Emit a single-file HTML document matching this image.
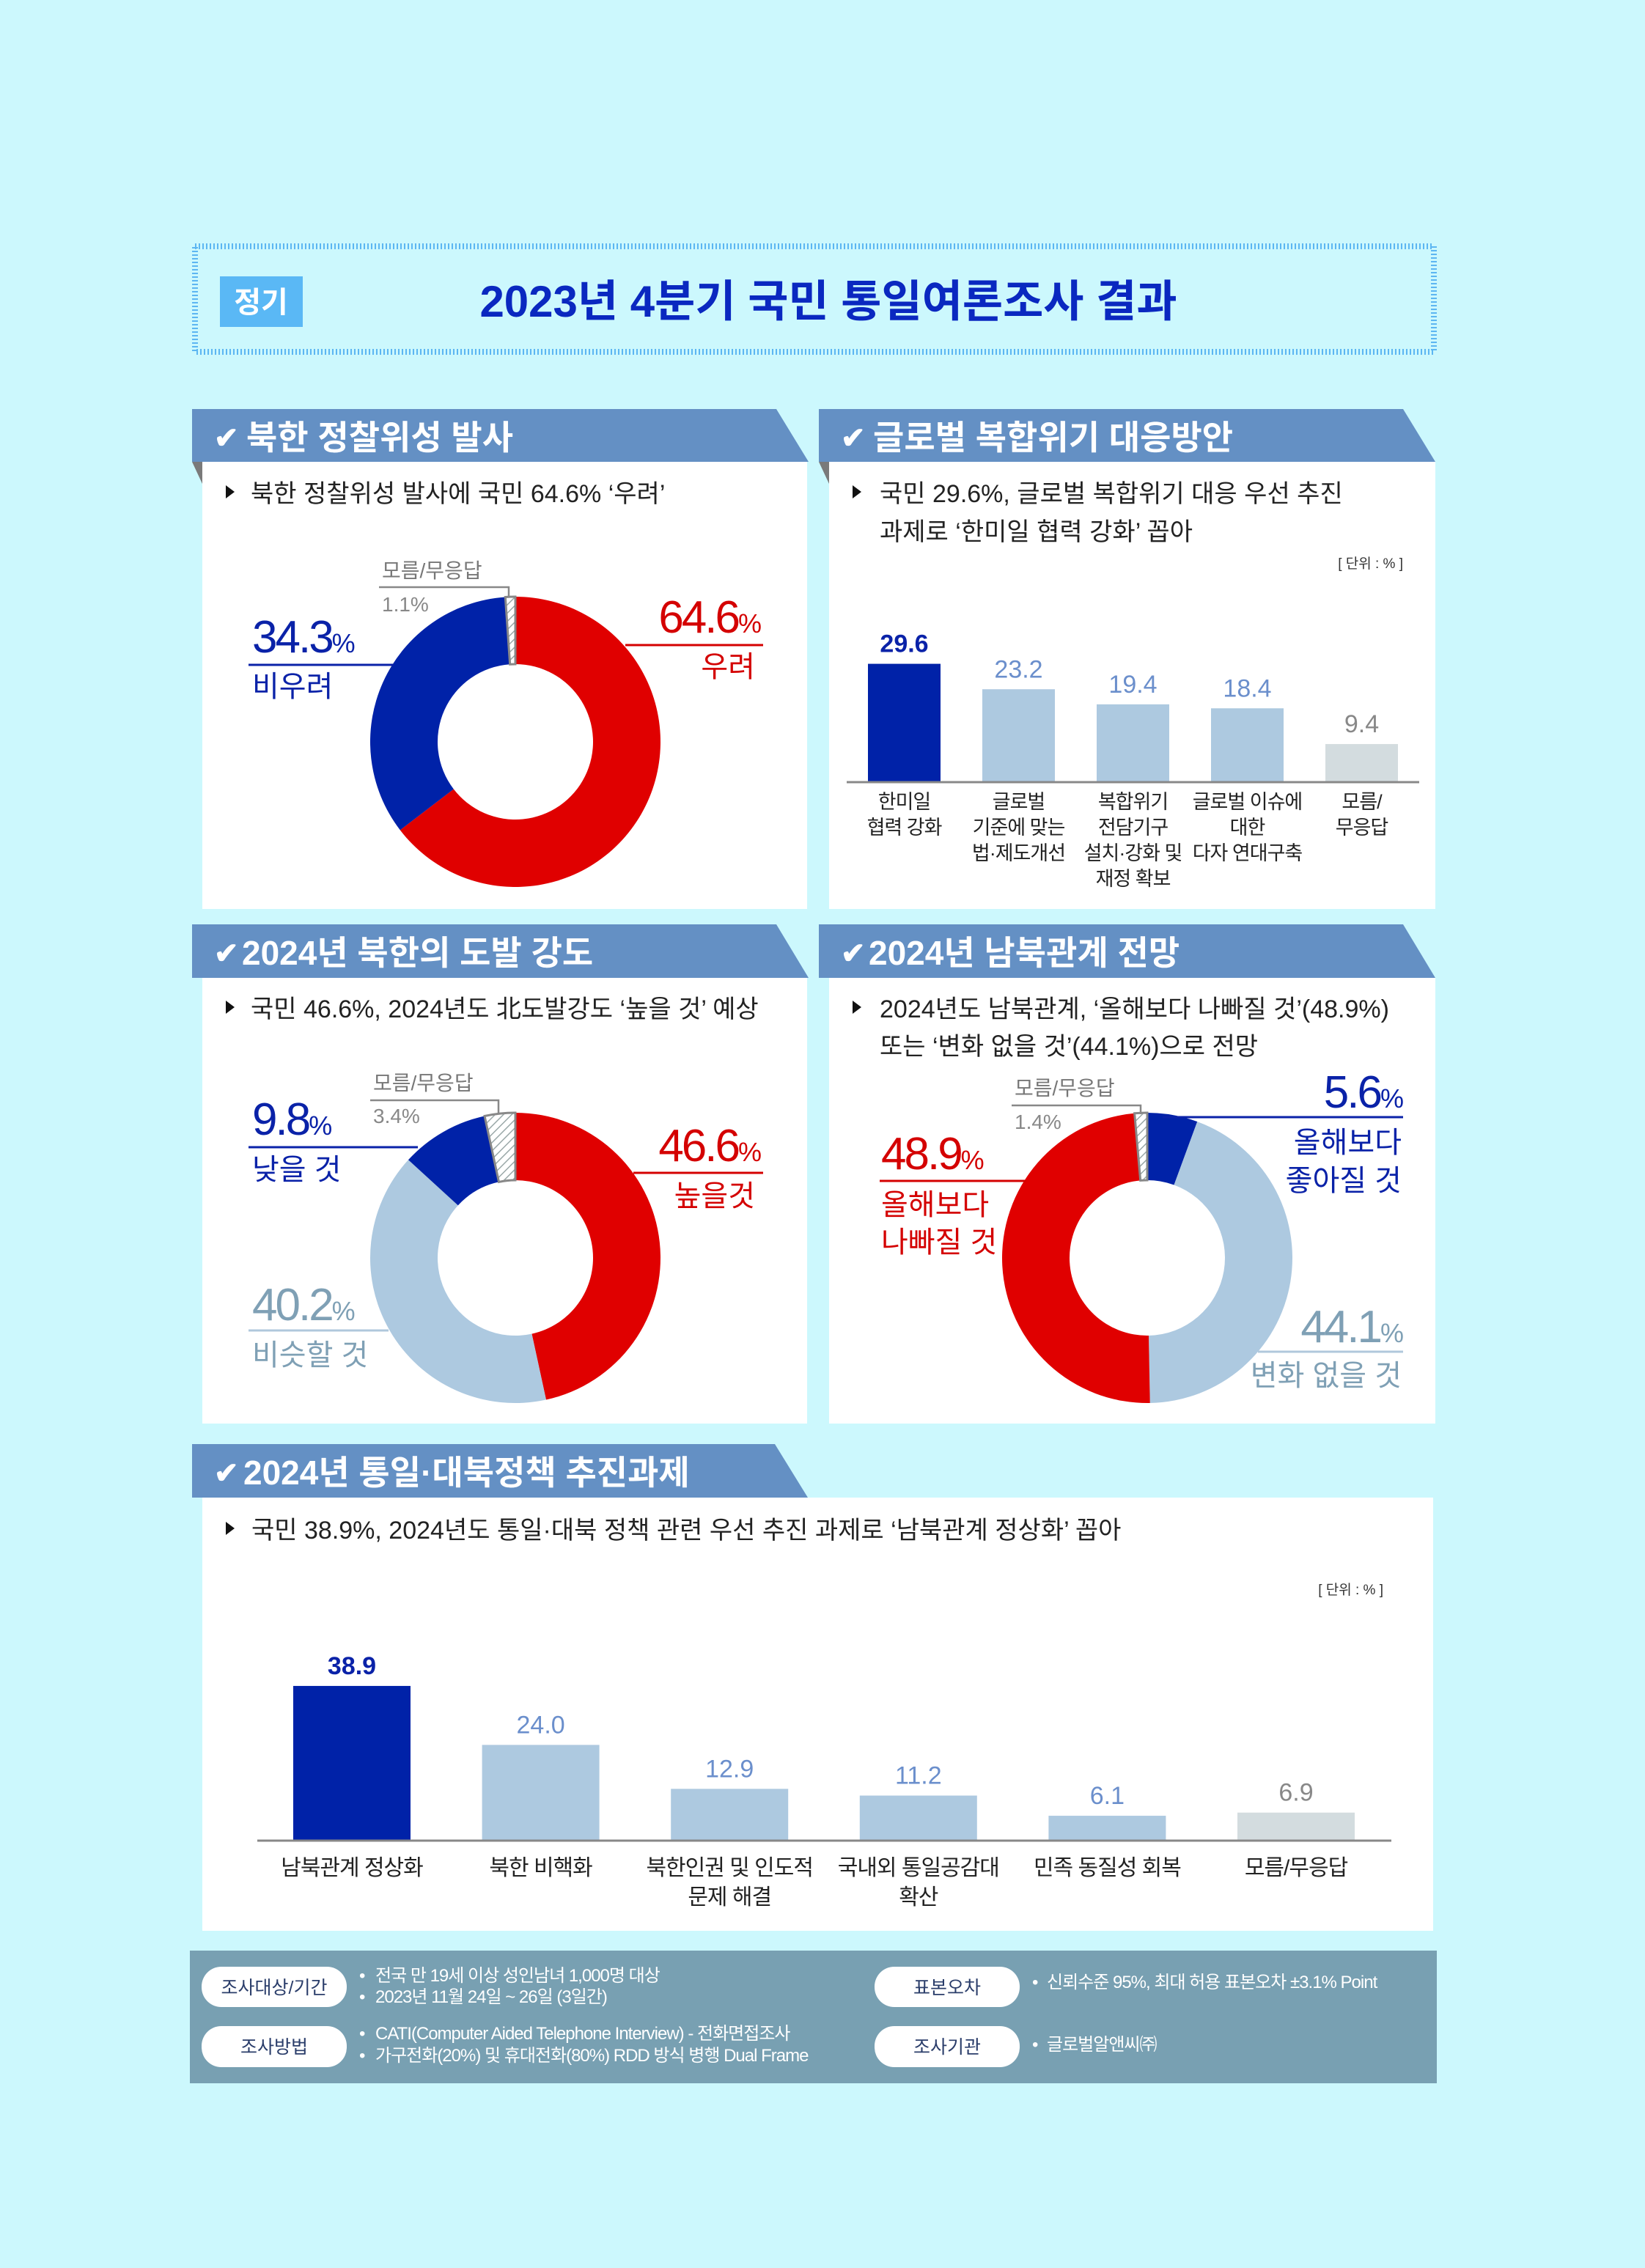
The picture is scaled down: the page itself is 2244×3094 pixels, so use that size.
<!DOCTYPE html>
<html><head><meta charset="utf-8">
<style>
html,body{margin:0;padding:0;background:#ccf8fd;}
svg{display:block;font-family:"Liberation Sans","Noto Sans CJK KR",sans-serif;}
</style></head>
<body>
<svg id="page" width="2244" height="3094" viewBox="0 0 2244 3094" xmlns="http://www.w3.org/2000/svg">
<defs>
<pattern id="hatch" width="8" height="8" patternUnits="userSpaceOnUse" patternTransform="rotate(45)">
<rect width="8" height="8" fill="#ffffff"/><line x1="0" y1="0" x2="0" y2="8" stroke="#9aa8a8" stroke-width="3"/>
</pattern>
</defs>
<rect x="0" y="0" width="2244" height="3094" fill="#ccf8fd"/>

<!-- Title -->
<g>
<rect x="266" y="336" width="1690" height="144" fill="none" stroke="#5cb6f2" stroke-width="8" stroke-dasharray="2 3"/>
<rect x="300" y="377" width="113" height="69" fill="#5ab8f5"/>
<text x="356" y="426" font-size="40" font-weight="bold" fill="#fff" text-anchor="middle">정기</text>
<text x="1130" y="432" font-size="60" font-weight="bold" fill="#0a28c0" text-anchor="middle">2023년 4분기 국민 통일여론조사 결과</text>
</g>

<!-- Panel bodies and headers -->
<g>
<rect x="276" y="630" width="825" height="610" fill="#fff"/>
<polygon points="262,558 1059,558 1103,630 262,630" fill="#6490c4"/>
<polygon points="262,630 276,630 276,660" fill="#7a7a7a"/>
<text x="292" y="611" font-size="40" font-weight="bold" fill="#fff">✔</text>
<text x="336" y="613" font-size="46" font-weight="bold" fill="#fff">북한 정찰위성 발사</text>
<polygon points="308,662 308,680 320,671" fill="#111"/>
<text x="342" y="685" font-size="34" fill="#222">북한 정찰위성 발사에 국민 64.6% ‘우려’</text>
</g>
<g>
<rect x="1131" y="630" width="827" height="610" fill="#fff"/>
<polygon points="1117,558 1914,558 1958,630 1117,630" fill="#6490c4"/>
<polygon points="1117,630 1131,630 1131,660" fill="#7a7a7a"/>
<text x="1147" y="611" font-size="40" font-weight="bold" fill="#fff">✔</text>
<text x="1191" y="613" font-size="46" font-weight="bold" fill="#fff">글로벌 복합위기 대응방안</text>
<polygon points="1163,662 1163,680 1175,671" fill="#111"/>
<text x="1200" y="685" font-size="34" fill="#222">국민 29.6%, 글로벌 복합위기 대응 우선 추진</text>
<text x="1200" y="737" font-size="34" fill="#222">과제로 ‘한미일 협력 강화’ 꼽아</text>
<text x="1914" y="775" font-size="19" fill="#333" text-anchor="end">[ 단위 : % ]</text>
</g>
<g>
<rect x="276" y="1334" width="825" height="608" fill="#fff"/>
<polygon points="262,1261 1059,1261 1103,1334 262,1334" fill="#6490c4"/>
<text x="292" y="1314" font-size="40" font-weight="bold" fill="#fff">✔</text>
<text x="330" y="1316" font-size="46" font-weight="bold" fill="#fff">2024년 북한의 도발 강도</text>
<polygon points="308,1365 308,1383 320,1374" fill="#111"/>
<text x="342" y="1388" font-size="34" fill="#222">국민 46.6%, 2024년도 北도발강도 ‘높을 것’ 예상</text>
</g>
<g>
<rect x="1131" y="1334" width="827" height="608" fill="#fff"/>
<polygon points="1117,1261 1914,1261 1958,1334 1117,1334" fill="#6490c4"/>
<text x="1147" y="1314" font-size="40" font-weight="bold" fill="#fff">✔</text>
<text x="1185" y="1316" font-size="46" font-weight="bold" fill="#fff">2024년 남북관계 전망</text>
<polygon points="1163,1365 1163,1383 1175,1374" fill="#111"/>
<text x="1200" y="1388" font-size="34" fill="#222">2024년도 남북관계, ‘올해보다 나빠질 것’(48.9%)</text>
<text x="1200" y="1439" font-size="34" fill="#222">또는 ‘변화 없을 것’(44.1%)으로 전망</text>
</g>
<g>
<rect x="276" y="2043" width="1679" height="591" fill="#fff"/>
<polygon points="262,1970 1057,1970 1102,2043 262,2043" fill="#6490c4"/>
<text x="292" y="2023" font-size="40" font-weight="bold" fill="#fff">✔</text>
<text x="332" y="2025" font-size="46" font-weight="bold" fill="#fff">2024년 통일·대북정책 추진과제</text>
<polygon points="308,2076 308,2094 320,2085" fill="#111"/>
<text x="343" y="2099" font-size="34" fill="#222">국민 38.9%, 2024년도 통일·대북 정책 관련 우선 추진 과제로 ‘남북관계 정상화’ 꼽아</text>
<text x="1887" y="2175" font-size="19" fill="#333" text-anchor="end">[ 단위 : % ]</text>
</g>

<g id="charts"></g>

<!-- Donut labels -->
<g>
<text x="344" y="890" font-size="62" fill="#0a22a8" letter-spacing="-3">34.3<tspan font-size="36">%</tspan></text>
<line x1="339" y1="907" x2="536" y2="907" stroke="#0a22a8" stroke-width="3"/>
<text x="344" y="950" font-size="40" fill="#0a22a8">비우려</text>
<text x="1036" y="863" font-size="62" fill="#d40000" text-anchor="end" letter-spacing="-3">64.6<tspan font-size="36">%</tspan></text>
<line x1="853" y1="880" x2="1041" y2="880" stroke="#d40000" stroke-width="3"/>
<text x="1030" y="923" font-size="40" fill="#d40000" text-anchor="end">우려</text>
<text x="521" y="788" font-size="28" fill="#777">모름/무응답</text>
<polyline points="517,801 694,801 694,815" fill="none" stroke="#888" stroke-width="2.5"/>
<text x="521" y="834" font-size="28" fill="#888">1.1%</text>
</g>
<g>
<text x="344" y="1548" font-size="62" fill="#0a22a8" letter-spacing="-3">9.8<tspan font-size="36">%</tspan></text>
<line x1="339" y1="1565" x2="570" y2="1565" stroke="#0a22a8" stroke-width="3"/>
<text x="344" y="1609" font-size="40" fill="#0a22a8">낮을 것</text>
<text x="1036" y="1584" font-size="62" fill="#d40000" text-anchor="end" letter-spacing="-3">46.6<tspan font-size="36">%</tspan></text>
<line x1="864" y1="1600" x2="1041" y2="1600" stroke="#d40000" stroke-width="3"/>
<text x="1030" y="1645" font-size="40" fill="#d40000" text-anchor="end">높을것</text>
<text x="344" y="1801" font-size="62" fill="#7fa0b5" letter-spacing="-3">40.2<tspan font-size="36">%</tspan></text>
<line x1="339" y1="1815" x2="530" y2="1815" stroke="#b0c8dc" stroke-width="3"/>
<text x="344" y="1862" font-size="40" fill="#7fa0b5">비슷할 것</text>
<text x="509" y="1487" font-size="28" fill="#777">모름/무응답</text>
<polyline points="505,1501 680,1501 680,1520" fill="none" stroke="#888" stroke-width="2.5"/>
<text x="509" y="1532" font-size="28" fill="#888">3.4%</text>
</g>
<g>
<text x="1912" y="1511" font-size="62" fill="#0a22a8" text-anchor="end" letter-spacing="-3">5.6<tspan font-size="36">%</tspan></text>
<line x1="1586" y1="1524" x2="1914" y2="1524" stroke="#0a22a8" stroke-width="3"/>
<text x="1912" y="1572" font-size="40" fill="#0a22a8" text-anchor="end">올해보다</text>
<text x="1912" y="1624" font-size="40" fill="#0a22a8" text-anchor="end">좋아질 것</text>
<text x="1202" y="1595" font-size="62" fill="#d40000" letter-spacing="-3">48.9<tspan font-size="36">%</tspan></text>
<line x1="1200" y1="1611" x2="1400" y2="1611" stroke="#d40000" stroke-width="3"/>
<text x="1202" y="1657" font-size="40" fill="#d40000">올해보다</text>
<text x="1202" y="1708" font-size="40" fill="#d40000">나빠질 것</text>
<text x="1912" y="1831" font-size="62" fill="#7fa0b5" text-anchor="end" letter-spacing="-3">44.1<tspan font-size="36">%</tspan></text>
<line x1="1716" y1="1844" x2="1914" y2="1844" stroke="#b0c8dc" stroke-width="3"/>
<text x="1912" y="1890" font-size="40" fill="#7fa0b5" text-anchor="end">변화 없을 것</text>
<text x="1384" y="1494" font-size="28" fill="#777">모름/무응답</text>
<polyline points="1380,1508 1556,1508 1556,1520" fill="none" stroke="#888" stroke-width="2.5"/>
<text x="1384" y="1540" font-size="28" fill="#888">1.4%</text>
</g>

<!-- Footer -->
<g>
<rect x="259" y="2661" width="1701" height="181" fill="#78a0b2"/>
<rect x="275" y="2683" width="198" height="55" rx="27" fill="#fff"/>
<text x="374" y="2720" font-size="25" fill="#2a3d6a" text-anchor="middle">조사대상/기간</text>
<rect x="275" y="2764" width="198" height="56" rx="27" fill="#fff"/>
<text x="374" y="2801" font-size="25" fill="#2a3d6a" text-anchor="middle">조사방법</text>
<rect x="1193" y="2683" width="198" height="55" rx="27" fill="#fff"/>
<text x="1292" y="2720" font-size="25" fill="#2a3d6a" text-anchor="middle">표본오차</text>
<rect x="1193" y="2764" width="198" height="56" rx="27" fill="#fff"/>
<text x="1292" y="2801" font-size="25" fill="#2a3d6a" text-anchor="middle">조사기관</text>
<g font-size="24" fill="#fff" letter-spacing="-1">
<text x="490" y="2703">•</text><text x="512" y="2703">전국 만 19세 이상 성인남녀 1,000명 대상</text>
<text x="490" y="2732">•</text><text x="512" y="2732">2023년 11월 24일 ~ 26일 (3일간)</text>
<text x="490" y="2782">•</text><text x="512" y="2782">CATI(Computer Aided Telephone Interview) - 전화면접조사</text>
<text x="490" y="2812">•</text><text x="512" y="2812">가구전화(20%) 및 휴대전화(80%) RDD 방식 병행 Dual Frame</text>
<text x="1408" y="2712">•</text><text x="1428" y="2712">신뢰수준 95%, 최대 허용 표본오차 ±3.1% Point</text>
<text x="1408" y="2797">•</text><text x="1428" y="2797">글로벌알앤씨㈜</text>
</g>
</g>
</svg>
<script>
// Donut data
const d1Labels = ["우려","비우려","모름/무응답"];
const d1Values = [64.6, 34.3, 1.1];
const d2Labels = ["높을것","비슷할 것","낮을 것","모름/무응답"];
const d2Values = [46.6, 40.2, 9.8, 3.4];
const d3Labels = ["좋아질 것","변화 없을 것","나빠질 것","모름/무응답"];
const d3Values = [5.6, 44.1, 48.9, 1.4];
// Bar chart 1
const b1Categories = [["한미일","협력 강화"],["글로벌","기준에 맞는","법·제도개선"],["복합위기","전담기구","설치·강화 및","재정 확보"],["글로벌 이슈에","대한","다자 연대구축"],["모름/","무응답"]];
const b1Values = [29.6, 23.2, 19.4, 18.4, 9.4];
const b1Labels = ["29.6","23.2","19.4","18.4","9.4"];
// Bar chart 2
const b2Categories = [["남북관계 정상화"],["북한 비핵화"],["북한인권 및 인도적","문제 해결"],["국내외 통일공감대","확산"],["민족 동질성 회복"],["모름/무응답"]];
const b2Values = [38.9, 24.0, 12.9, 11.2, 6.1, 6.9];
const b2Labels = ["38.9","24.0","12.9","11.2","6.1","6.9"];

const NS = "http://www.w3.org/2000/svg";
const root = document.getElementById("charts");
function mk(tag, attrs, parent){const e=document.createElementNS(NS,tag);for(const k in attrs)e.setAttribute(k,attrs[k]);(parent||root).appendChild(e);return e;}

function donut(name, cx, cy, ro, ri, values, colors, labels){
  const g = mk("g",{});
  
  
  const total = values.reduce((a,b)=>a+b,0);
  let acc = 0;
  values.forEach((v,i)=>{
    const a0 = -Math.PI/2 + acc/total*2*Math.PI;
    acc += v;
    const a1 = -Math.PI/2 + acc/total*2*Math.PI;
    const large = (a1-a0) > Math.PI ? 1 : 0;
    const p = `M${cx+ro*Math.cos(a0)},${cy+ro*Math.sin(a0)} A${ro},${ro} 0 ${large} 1 ${cx+ro*Math.cos(a1)},${cy+ro*Math.sin(a1)} L${cx+ri*Math.cos(a1)},${cy+ri*Math.sin(a1)} A${ri},${ri} 0 ${large} 0 ${cx+ri*Math.cos(a0)},${cy+ri*Math.sin(a0)} Z`;
    const hatch = colors[i]==="hatch";
    const s = mk("path",{d:p, fill: hatch?"url(#hatch)":colors[i], stroke: hatch?"#888":"none", "stroke-width": hatch?3:0}, g);
    
    
  });
}
donut("donut-satellite", 703, 1012, 198, 106, d1Values, ["#e00000","#0022a8","hatch"], d1Labels);
donut("donut-provocation", 703, 1716, 198, 106, d2Values, ["#e00000","#adc9e0","#0022a8","hatch"], d2Labels);
donut("donut-relations", 1565, 1716, 198, 106, d3Values, ["#0022a8","#adc9e0","#e00000","hatch"], d3Labels);

function bars(name, x0, step, bw, base, unit, axisX1, axisX2, values, labels, cats, colors, valColors, valSize, catSize, catBase, catLH){
  const g = mk("g",{});
  
  
  const xPos = i => x0 + i*step;
  const yPos = v => base - v*unit;
  values.forEach((v,i)=>{
    const r = mk("rect",{x:xPos(i), y:yPos(v), width:bw, height:base-yPos(v), fill:colors[i]}, g);
    
    
    const t = mk("text",{x:xPos(i)+bw/2, y:yPos(v)-16, "font-size":valSize, fill:valColors[i], "text-anchor":"middle", "font-weight": i===0?"bold":"normal"}, g);
    t.textContent = labels[i];
    
    
    cats[i].forEach((ln,j)=>{
      const c = mk("text",{x:xPos(i)+bw/2, y:catBase+j*catLH, "font-size":catSize, fill:"#222", "text-anchor":"middle", "letter-spacing":"-1"}, g);
      c.textContent = ln;
      
      
    });
  });
  const ax = mk("line",{x1:axisX1, y1:base+1, x2:axisX2, y2:base+1, stroke:"#888", "stroke-width":3}, g);
  
  
}
bars("bar-chart-global-crisis", 1184, 156, 99, 1066, 5.42, 1155, 1936, b1Values, b1Labels, b1Categories,
  ["#0022a8","#adc9e0","#adc9e0","#adc9e0","#d3dcdf"], ["#0a22a8","#6b8fcc","#6b8fcc","#6b8fcc","#888"], 34, 27, 1103, 35);
bars("bar-chart-policy", 400, 257.6, 160, 2510, 5.4, 351, 1898, b2Values, b2Labels, b2Categories,
  ["#0022a8","#adc9e0","#adc9e0","#adc9e0","#adc9e0","#d3dcdf"], ["#0a22a8","#6b8fcc","#6b8fcc","#6b8fcc","#6b8fcc","#888"], 34, 30, 2558, 40);
</script>
</body></html>
